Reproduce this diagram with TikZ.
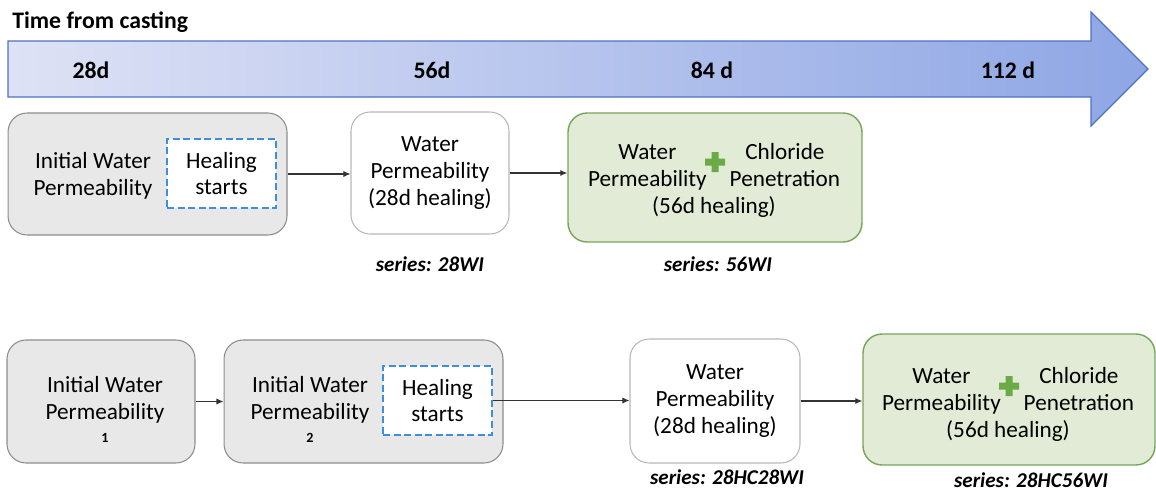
\documentclass[tikz,border=0pt]{standalone}
\usepackage{fontspec}
\setmainfont{Carlito}
\usetikzlibrary{arrows.meta}

\definecolor{stagefill}{HTML}{E8E8E8}
\definecolor{stageline}{HTML}{8C8C8C}
\definecolor{testline}{HTML}{B8B8B8}
\definecolor{chlorfill}{HTML}{E2EBD6}
\definecolor{chlorline}{HTML}{76A55A}
\definecolor{plusgreen}{HTML}{6AAB46}
\definecolor{healblue}{HTML}{3E8EDB}
\definecolor{timeleft}{HTML}{DEE2F5}
\definecolor{timeright}{HTML}{8EA6E5}
\definecolor{timeline}{HTML}{4F72C4}
\definecolor{flowline}{HTML}{333333}

\begin{document}
\begin{tikzpicture}[x=0.02cm, y=-0.02cm]
\useasboundingbox (0,0) rectangle (1156,490);

\tikzstyle{every node} = [font=\fontsize{13.2}{15.3}\selectfont, align=center, inner sep=0pt]
\tikzstyle{stage} = [draw=stageline, fill=stagefill, rounded corners=0.38cm, line width=0.6pt]
\tikzstyle{test} = [draw=testline, fill=white, rounded corners=0.38cm, line width=0.6pt]
\tikzstyle{chlor} = [draw=chlorline, fill=chlorfill, rounded corners=0.38cm, line width=0.8pt]
\tikzstyle{heal} = [draw=healblue, fill=white, dash pattern=on 4pt off 2pt, line width=1.3pt,
  minimum width=2.18cm, minimum height=1.38cm]
\tikzstyle{tick} = [font=\fontsize{13.5}{16}\selectfont\bfseries]
\tikzstyle{series} = [font=\fontsize{12}{14}\selectfont\bfseries\itshape]
\tikzstyle{rep} = [font=\fontsize{8}{9}\selectfont\bfseries]
\tikzstyle{flow} = [draw=flowline, line width=0.6pt, -{Latex[length=4pt,width=3.5pt]}]

%Time axis
\node[anchor=west, font=\fontsize{13.5}{16}\selectfont\bfseries] (title) at (12,22) {Time from casting};
\path[draw=timeline, line width=0.7pt, left color=timeleft, right color=timeright]
(8, 41) --
(1091, 41) --
(1091, 12) --
(1148, 69) --
(1091, 126) --
(1091, 97) --
(8, 97) --
cycle;

\node[tick] (d28) at (91, 70) {28d};
\node[tick] (d56) at (432, 70) {56d};
\node[tick] (d84) at (712, 70) {84 d};
\node[tick] (d112) at (1008, 70) {112 d};

%% First series
\node[stage, minimum width=5.58cm, minimum height=2.44cm] (a) at (147.5, 174) {};
\node (atext) at (93, 176) {Initial Water\\Permeability};
\node[heal] (aheal) at (221.5, 173.5) {Healing\\starts};

\node[test, minimum width=3.16cm, minimum height=2.44cm] (b) at (430, 173) {Water\\Permeability\\(28d healing)};

\node[chlor, minimum width=5.88cm, minimum height=2.58cm] (c) at (715, 177.5) {};
\node (ctext) at (714, 181) {\begin{tabular}{@{}c@{\hspace{0.46cm}}c@{}}
Water & Chloride\\ Permeability & Penetration\\ \multicolumn{2}{c}{(56d healing)}\end{tabular}};

\node[series] (sa) at (430, 264) {series: 28WI};
\node[series] (sb) at (718, 264) {series: 56WI};

%% Second series
\node[stage, minimum width=3.76cm, minimum height=2.46cm] (d) at (101, 401.5) {};
\node (dtext) at (105, 400) {Initial Water\\Permeability};
\node[rep] (d1) at (105, 438) {1};

\node[stage, minimum width=5.58cm, minimum height=2.46cm] (e) at (363.5, 401.5) {};
\node (etext) at (310, 400) {Initial Water\\Permeability};
\node[rep] (e2) at (310, 438) {2};
\node[heal] (eheal) at (437.5, 400.5) {Healing\\starts};

\node[test, minimum width=3.4cm, minimum height=2.48cm] (f) at (715, 401) {Water\\Permeability\\(28d healing)};

\node[chlor, minimum width=5.84cm, minimum height=2.62cm] (g) at (1009, 399.5) {};
\node (gtext) at (1008, 405) {\begin{tabular}{@{}c@{\hspace{0.46cm}}c@{}}
Water & Chloride\\ Permeability & Penetration\\ \multicolumn{2}{c}{(56d healing)}\end{tabular}};

\node[series] (sc) at (727, 477) {series: 28HC28WI};
\node[series] (sd) at (1031, 480) {series: 28HC56WI};

% green plus signs
\foreach \px/\py in {715/162, 1009/386}
\fill[plusgreen] (\px-3.5, \py-10) rectangle (\px+3.5, \py+10)
                 (\px-10, \py-3.5) rectangle (\px+10, \py+3.5);

% arrows
\foreach \from/\to in {a/b, b/c, d/e, eheal/f, f/g}
\draw [flow] (\from.east) -- (\from.east -| \to.west);

\end{tikzpicture}
\end{document}
